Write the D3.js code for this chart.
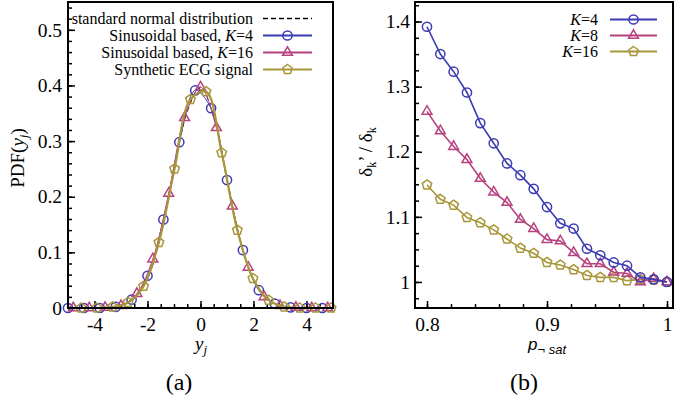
<!DOCTYPE html>
<html lang="en">
<head>
<meta charset="UTF-8">
<title>PDF / delta ratio</title>
<script src="https://d3js.org/d3.v7.min.js"></script>
<style>
    body { margin: 0; background: #fff; }
    svg text { font-family: "Liberation Serif", "Times New Roman", serif; fill: #000; }
    .legend { font-size: 16px; }
    .tag { font-size: 24px; }
    .axlabel { font-size: 19px; }
</style>
</head>
<body>
<svg width="674" height="403"></svg>

<script>
// ---- panel (a): PDF(y_j) ----
const normX = [-5, -4.5, -4, -3.5, -3, -2.5, -2, -1.5, -1, -0.5, 0, 0.5, 1, 1.5, 2, 2.5, 3, 3.5, 4, 4.5, 5];
const normY = [0, 0, 0.0001, 0.0009, 0.0044, 0.0175, 0.052, 0.132, 0.246, 0.353, 0.397, 0.343, 0.232, 0.122, 0.05, 0.016, 0.004, 0.0009, 0.0001, 0, 0];

const k4X = [-5, -4.4, -3.8, -3.2, -2.6, -2.0, -1.4, -0.8, -0.2, 0.4, 1.0, 1.6, 2.2, 2.8, 3.4, 4.0, 4.6];
const k4Y = [0, 0, 0, 0.002, 0.015, 0.058, 0.159, 0.298, 0.391, 0.359, 0.23, 0.104, 0.032, 0.008, 0.001, 0, 0];

const k16X = [-4.8, -4.2, -3.6, -3.0, -2.4, -1.8, -1.2, -0.6, 0, 0.6, 1.2, 1.8, 2.4, 3.0, 3.6, 4.2, 4.8];
const k16Y = [0, 0, 0.001, 0.004, 0.026, 0.088, 0.206, 0.342, 0.397, 0.324, 0.183, 0.073, 0.02, 0.004, 0.001, 0, 0];

const ecgX = [-4.5, -3.91, -3.32, -2.73, -2.15, -1.57, -0.98, -0.38, 0.21, 0.8, 1.39, 1.98, 2.57, 3.16, 3.75, 4.34, 4.93];
const ecgY = [0, 0, 0.002, 0.01, 0.039, 0.118, 0.25, 0.375, 0.389, 0.279, 0.14, 0.053, 0.014, 0.002, 0, 0, 0];

const ticksAX = [-4, -2, 0, 2, 4];
const ticksAY = [0, 0.1, 0.2, 0.3, 0.4, 0.5];

// ---- panel (b): delta ratio vs p_sat ----
const pSat = [0.8, 0.8111, 0.8222, 0.8333, 0.8444, 0.8556, 0.8667, 0.8778, 0.8889, 0.9,
              0.9111, 0.9222, 0.9333, 0.9444, 0.9556, 0.9667, 0.9778, 0.9889, 1.0];
const ratioK4  = [1.392, 1.35, 1.323, 1.291, 1.244, 1.213, 1.182, 1.164, 1.143, 1.115,
                  1.09, 1.082, 1.051, 1.041, 1.03, 1.025, 1.007, 1.004, 1.0];
const ratioK8  = [1.262, 1.232, 1.208, 1.188, 1.159, 1.138, 1.122, 1.096, 1.082, 1.065,
                  1.063, 1.045, 1.028, 1.028, 1.015, 1.013, 1.0, 1.005, 1.0];
const ratioK16 = [1.149, 1.127, 1.118, 1.099, 1.091, 1.08, 1.066, 1.052, 1.044, 1.03,
                  1.026, 1.019, 1.01, 1.007, 1.007, 1.002, 1.004, 1.003, 1.0];

const ticksBX = [0.8, 0.9, 1.0];
const ticksBY = [1.0, 1.1, 1.2, 1.3, 1.4];

const blue = "#3b3bb2", magenta = "#b8417f", olive = "#a8973a";
const serif = "'Liberation Serif', 'Times New Roman', serif";

const svg = d3.select("svg");

function pentagon(r) {
    const p = d3.path();
    for (let i = 0; i < 5; i++) {
        const a = -Math.PI / 2 + i * 2 * Math.PI / 5;
        if (i === 0) p.moveTo(r * Math.cos(a), r * Math.sin(a));
        else p.lineTo(r * Math.cos(a), r * Math.sin(a));
    }
    p.closePath();
    return p.toString();
}

function marker(g, type, color) {
    if (type === "circle") {
        return g.append("circle").attr("r", 4.6).attr("fill", "none")
            .attr("stroke", color).attr("stroke-width", 1.5);
    }
    const d = type === "triangle" ? d3.symbol(d3.symbolTriangle, 42)() : pentagon(5);
    return g.append("path").attr("d", d).attr("fill", "none")
        .attr("stroke", color).attr("stroke-width", 1.5);
}

function drawSeries(g, x, y, xs, ys, color, type, curve, width) {
    const pts = xs.map((v, i) => [v, ys[i]]);
    const line = d3.line().x(d => x(d[0])).y(d => y(d[1])).curve(curve);
    g.append("path").datum(pts).attr("d", line)
        .attr("fill", "none").attr("stroke", color).attr("stroke-width", width);
    pts.forEach(d => {
        marker(g, type, color).attr("transform", "translate(" + x(d[0]) + "," + y(d[1]) + ")");
    });
}

function frame(x, y) {
    svg.append("rect")
        .attr("x", x.range()[0]).attr("y", y.range()[1])
        .attr("width", x.range()[1] - x.range()[0])
        .attr("height", y.range()[0] - y.range()[1])
        .attr("fill", "none").attr("stroke", "black").attr("stroke-width", 2);
}

function axes(x, y, majX, minX, majY, minY, fmtX, fmtY, labPadY) {
    const h = y.range()[0];
    const l = x.range()[0];
    svg.append("g").attr("transform", "translate(0," + h + ")")
        .call(d3.axisBottom(x).tickValues(minX).tickSize(-4).tickFormat(""))
        .call(g => g.select(".domain").remove());
    svg.append("g").attr("transform", "translate(0," + h + ")")
        .call(d3.axisBottom(x).tickValues(majX).tickSize(-7).tickPadding(9).tickFormat(fmtX))
        .call(g => g.select(".domain").remove());
    svg.append("g").attr("transform", "translate(" + l + ",0)")
        .call(d3.axisLeft(y).tickValues(minY).tickSize(-4).tickFormat(""))
        .call(g => g.select(".domain").remove());
    svg.append("g").attr("transform", "translate(" + l + ",0)")
        .call(d3.axisLeft(y).tickValues(majY).tickSize(-7).tickPadding(labPadY).tickFormat(fmtY))
        .call(g => g.select(".domain").remove());
    svg.selectAll(".tick line").attr("stroke", "black").attr("stroke-width", 1.5);
    svg.selectAll(".tick text").style("font-family", serif).style("font-size", "19.5px");
}

function legendRow(g, xText, x1, x2, yy, color, type, parts, dashed) {
    const t = g.append("text").attr("class", "legend").attr("x", xText).attr("y", yy)
        .attr("dy", "0.35em").attr("text-anchor", "end").style("font-family", serif);
    parts.forEach(p => {
        const s = t.append("tspan").text(p[0]);
        if (p[1]) s.attr("font-style", "italic");
    });
    g.append("line").attr("x1", x1).attr("x2", x2).attr("y1", yy).attr("y2", yy)
        .attr("stroke", color).attr("stroke-width", dashed ? 1.6 : 2)
        .attr("stroke-dasharray", dashed ? "5,3" : null);
    if (type) marker(g, type, color).attr("transform", "translate(" + (x1 + x2) / 2 + "," + yy + ")");
}

// ===== panel (a) =====
const xA = d3.scaleLinear().domain([-5, 5]).range([68, 333]);
const yA = d3.scaleLinear().domain([0, 0.55]).range([308, 2]);

axes(xA, yA, ticksAX, d3.range(-5, 5.01, 0.5), ticksAY, d3.range(0, 0.55, 0.02),
     d => String(d), d => d === 0 ? "0" : d3.format(".1f")(d), 6);

const gA = svg.append("g");
const smooth = d3.curveCatmullRom.alpha(0.5);
const pairsN = normX.map((v, i) => [v, normY[i]]);
gA.append("path").datum(pairsN)
    .attr("d", d3.line().x(d => xA(d[0])).y(d => yA(d[1])).curve(smooth))
    .attr("fill", "none").attr("stroke", "black").attr("stroke-width", 1).attr("stroke-dasharray", "5,3");
drawSeries(gA, xA, yA, k4X, k4Y, blue, "circle", smooth, 1);
drawSeries(gA, xA, yA, k16X, k16Y, magenta, "triangle", smooth, 1);
drawSeries(gA, xA, yA, ecgX, ecgY, olive, "pentagon", smooth, 2.2);

frame(xA, yA);

const legA = svg.append("g");
legendRow(legA, 253, 263, 312, 18.5, "black", null, [["standard normal distribution"]], true);
legendRow(legA, 253, 263, 312, 35.5, blue, "circle", [["Sinusoidal based, "], ["K", true], ["=4"]]);
legendRow(legA, 253, 263, 312, 52.5, magenta, "triangle", [["Sinusoidal based, "], ["K", true], ["=16"]]);
legendRow(legA, 253, 263, 312, 69.5, olive, "pentagon", [["Synthetic ECG signal"]]);

// axis labels (a)
const ylA = svg.append("text").attr("class", "axlabel").attr("text-anchor", "middle")
    .attr("transform", "translate(24,158) rotate(-90)");
ylA.append("tspan").text("PDF(");
ylA.append("tspan").attr("font-style", "italic").text("y");
ylA.append("tspan").attr("font-style", "italic").attr("font-size", 13).attr("dy", 4).text("j");
ylA.append("tspan").attr("dy", -4).text(")");

const xlA = svg.append("text").attr("class", "axlabel").attr("x", 201).attr("y", 350).attr("text-anchor", "middle");
xlA.append("tspan").attr("font-style", "italic").text("y");
xlA.append("tspan").attr("font-style", "italic").attr("font-size", 13).attr("dy", 4).text("j");

svg.append("text").attr("class", "tag").attr("x", 179).attr("y", 390).attr("text-anchor", "middle").text("(a)");

// ===== panel (b) =====
const xB = d3.scaleLinear().domain([0.79, 1.005]).range([415, 673]);
const yB = d3.scaleLinear().domain([0.96, 1.43]).range([308, 2]);

axes(xB, yB, ticksBX, d3.range(0.8, 1.001, 0.02), ticksBY, d3.range(0.975, 1.43, 0.025),
     d => d === 1 ? "1" : d3.format(".1f")(d), d => d === 1 ? "1" : d3.format(".1f")(d), 5);

const gB = svg.append("g");
drawSeries(gB, xB, yB, pSat, ratioK16, olive, "pentagon", d3.curveLinear, 1.6);
drawSeries(gB, xB, yB, pSat, ratioK8, magenta, "triangle", d3.curveLinear, 1.6);
drawSeries(gB, xB, yB, pSat, ratioK4, blue, "circle", d3.curveLinear, 1.6);

frame(xB, yB);

const legB = svg.append("g");
legendRow(legB, 598, 610, 657, 19.5, blue, "circle", [["K", true], ["=4"]]);
legendRow(legB, 598, 610, 657, 35.5, magenta, "triangle", [["K", true], ["=8"]]);
legendRow(legB, 598, 610, 657, 51.5, olive, "pentagon", [["K", true], ["=16"]]);

// axis labels (b)
const ylB = svg.append("text").attr("class", "axlabel").attr("text-anchor", "middle")
    .attr("transform", "translate(372,152) rotate(-90)");
ylB.append("tspan").text("δ");
ylB.append("tspan").attr("font-size", 12).attr("dy", 4).text("k");
ylB.append("tspan").attr("dy", -4).text("’ / δ");
ylB.append("tspan").attr("font-size", 12).attr("dy", 4).text("k");

const xlB = svg.append("text").attr("x", 547).attr("y", 350).attr("text-anchor", "middle")
    .style("font-family", "'Liberation Sans', Arial, sans-serif").style("font-style", "italic");
xlB.append("tspan").attr("font-size", 17).text("p");
xlB.append("tspan").attr("font-size", 13).attr("dy", 4).text("¬ sat");

svg.append("text").attr("class", "tag").attr("x", 524).attr("y", 390).attr("text-anchor", "middle").text("(b)");
</script>
</body>
</html>
